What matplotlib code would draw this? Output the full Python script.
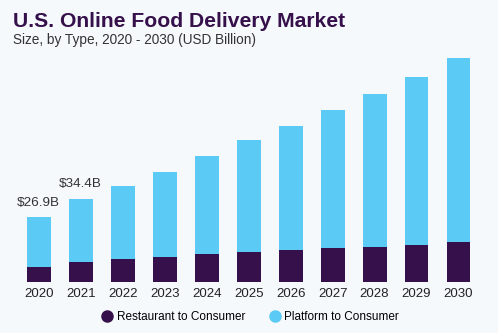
import matplotlib
matplotlib.use("Agg")
import matplotlib.pyplot as plt
from matplotlib.lines import Line2D

years = ["2020", "2021", "2022", "2023", "2024", "2025", "2026", "2027", "2028", "2029", "2030"]
restaurant = [6.3, 8.1, 9.5, 10.3, 11.6, 12.4, 13.2, 14.2, 14.6, 15.5, 16.7]
platform = [20.6, 26.3, 30.4, 35.4, 40.6, 46.4, 51.2, 56.9, 63.1, 69.4, 75.9]
annotations = {0: "$26.9B", 1: "$34.4B"}

DARK = "#36104a"
LIGHT = "#5bcaf5"
BG = "#f5f9fc"

W, H = 498, 333
fig = plt.figure(figsize=(W / 100, H / 100), dpi=100, facecolor=BG)

left, right = 17.7, 479.5
base, top = 282.0, 282.0 - 2.416 * 100
ax = fig.add_axes([left / W, 1 - base / H, (right - left) / W, (base - top) / H])
ax.set_facecolor(BG)

x = list(range(len(years)))
ax.bar(x, restaurant, width=0.57, color=DARK, zorder=2)
ax.bar(x, platform, width=0.57, bottom=restaurant, color=LIGHT, zorder=2)

for i, txt in annotations.items():
    total = restaurant[i] + platform[i]
    ax.text(i, total + 3.5, txt, ha="center", va="bottom", fontsize=9.7,
            family="Liberation Sans", color="#333333")

ax.set_xlim(-0.5, len(years) - 0.5)
ax.set_ylim(0, 100)
ax.set_xticks(x)
ax.set_xticklabels(years, fontsize=9.5, family="Liberation Sans", color="#222222")
ax.tick_params(axis="x", length=0, pad=4)
ax.set_yticks([])
for s in ax.spines.values():
    s.set_visible(False)

fig.text(13 / W, 1 - 27 / H, "U.S. Online Food Delivery Market", fontsize=15.2,
         fontweight="bold", family="Liberation Sans", color=DARK, ha="left", va="baseline")
fig.text(13 / W, 1 - 44 / H, "Size, by Type, 2020 - 2030 (USD Billion)", fontsize=9.8,
         family="Liberation Sans", color="#333333", ha="left", va="baseline")

handles = [
    Line2D([], [], marker="o", linestyle="", markersize=8, markerfacecolor=DARK, markeredgecolor=DARK),
    Line2D([], [], marker="o", linestyle="", markersize=8, markerfacecolor=LIGHT, markeredgecolor=LIGHT),
]
leg = fig.legend(handles, ["Restaurant to Consumer", "Platform to Consumer"], loc="center",
                 bbox_to_anchor=(250 / W, 1 - 317 / H), ncol=2, frameon=False,
                 prop={"family": "Liberation Sans", "size": 8.5}, handletextpad=0.3,
                 columnspacing=2.0, handlelength=1.0)

fig.savefig("out.png", dpi=100, facecolor=BG)
